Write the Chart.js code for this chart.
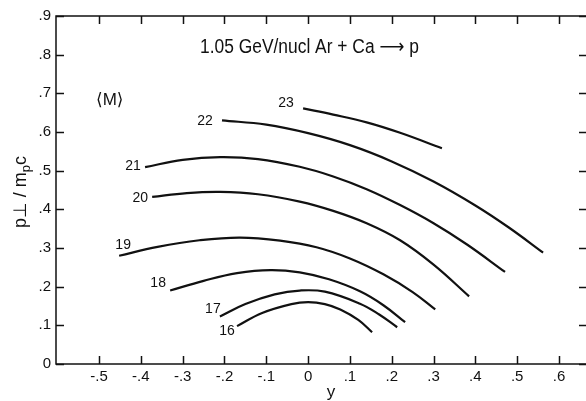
<!DOCTYPE html>
<html>
<head>
<meta charset="utf-8">
<script src="https://cdn.jsdelivr.net/npm/chart.js@4/dist/chart.umd.min.js"></script>
<style>
  html, body { margin: 0; padding: 0; background: #fff; overflow: hidden; }
</style>
</head>
<body>
<canvas id="chart" width="590" height="401"></canvas>
<script>
// <M> curves: rapidity y and p_perp / m_p c
const curveNames = ['16', '17', '18', '19', '20', '21', '22', '23'];

const m16x = [-0.170, -0.11, -0.04, 0.0, 0.04, 0.077, 0.12, 0.153];
const m16y = [0.098, 0.132, 0.155, 0.160, 0.155, 0.141, 0.114, 0.082];

const m17x = [-0.211, -0.15, -0.08, -0.02, 0.04, 0.124, 0.17, 0.213];
const m17y = [0.123, 0.155, 0.180, 0.190, 0.187, 0.156, 0.128, 0.095];

const m18x = [-0.330, -0.25, -0.17, -0.09, -0.02, 0.05, 0.124, 0.18, 0.232];
const m18y = [0.190, 0.215, 0.235, 0.243, 0.237, 0.219, 0.188, 0.152, 0.108];

const m19x = [-0.452, -0.36, -0.26, -0.163, -0.067, 0.02, 0.10, 0.18, 0.25, 0.304];
const m19y = [0.280, 0.303, 0.320, 0.327, 0.319, 0.302, 0.273, 0.232, 0.186, 0.141];

const m20x = [-0.373, -0.29, -0.21, -0.12, -0.02, 0.06, 0.14, 0.22, 0.30, 0.385];
const m20y = [0.432, 0.442, 0.445, 0.439, 0.420, 0.396, 0.364, 0.320, 0.257, 0.175];

const m21x = [-0.39, -0.30, -0.21, -0.12, -0.02, 0.06, 0.14, 0.22, 0.30, 0.38, 0.471];
const m21y = [0.509, 0.528, 0.535, 0.530, 0.510, 0.485, 0.452, 0.411, 0.364, 0.309, 0.238];

const m22x = [-0.206, -0.10, 0.0, 0.10, 0.20, 0.30, 0.40, 0.48, 0.562];
const m22y = [0.630, 0.619, 0.597, 0.566, 0.524, 0.472, 0.410, 0.353, 0.288];

const m23x = [-0.012, 0.06, 0.14, 0.22, 0.32];
const m23y = [0.661, 0.645, 0.625, 0.598, 0.558];

const curveX = [m16x, m17x, m18x, m19x, m20x, m21x, m22x, m23x];
const curveY = [m16y, m17y, m18y, m19y, m20y, m21y, m22y, m23y];

const xTicks = [-0.5, -0.4, -0.3, -0.2, -0.1, 0, 0.1, 0.2, 0.3, 0.4, 0.5, 0.6];
const yTicks = [0, 0.1, 0.2, 0.3, 0.4, 0.5, 0.6, 0.7, 0.8, 0.9];

// pixel offsets of each curve's number from its first point
const labelOffsets = [[-10, 5], [-7, -7], [-12, -7], [4, -11], [-12, 1], [-12, -1], [-17, 1], [-17, -5]];

const FONT = "'Liberation Sans', 'DejaVu Sans', sans-serif";

function fmt(v) {
    if (Math.abs(v) < 1e-9) return '0';
    return v.toFixed(1).replace('0.', '.');
}

const decor = {
    id: 'decor',
    afterDraw(chart) {
        const ctx = chart.ctx;
        const a = chart.chartArea;
        const xs = chart.scales.x, ys = chart.scales.y;
        ctx.save();
        ctx.strokeStyle = '#111';
        ctx.lineWidth = 1.5;
        ctx.strokeRect(a.left, a.top, a.right - a.left, a.bottom - a.top);

        // inward ticks on all four sides
        ctx.beginPath();
        xTicks.forEach(v => {
            const px = Math.round(xs.getPixelForValue(v)) + 0.5;
            ctx.moveTo(px, a.bottom); ctx.lineTo(px, a.bottom - 8);
            ctx.moveTo(px, a.top); ctx.lineTo(px, a.top + 8);
        });
        yTicks.forEach(v => {
            const py = Math.round(ys.getPixelForValue(v)) + 0.5;
            ctx.moveTo(a.left, py); ctx.lineTo(a.left + 8, py);
            ctx.moveTo(a.right, py); ctx.lineTo(a.right - 8, py);
        });
        ctx.stroke();

        // curve numbers
        ctx.fillStyle = '#111';
        ctx.font = '14px ' + FONT;
        ctx.textAlign = 'center';
        ctx.textBaseline = 'middle';
        curveNames.forEach((name, i) => {
            const px = xs.getPixelForValue(curveX[i][0]);
            const py = ys.getPixelForValue(curveY[i][0]);
            ctx.fillText(name, px + labelOffsets[i][0], py + labelOffsets[i][1]);
        });

        // x axis title
        ctx.font = '17px ' + FONT;
        ctx.fillText('y', 331, 392);

        // <M>
        ctx.font = '17px ' + FONT;
        ctx.textAlign = 'left';
        ctx.fillText('\u27E8M\u27E9', a.left + 40, a.top + 84);

        // reaction title, slightly condensed
        ctx.save();
        ctx.translate(a.left + 144, a.top + 31);
        ctx.scale(0.87, 1);
        ctx.font = '20px ' + FONT;
        ctx.fillText('1.05 GeV/nucl Ar + Ca \u27F6 p', 0, 0);
        ctx.restore();

        // y axis title: p⊥ / m_p c
        ctx.translate(20, 192);
        ctx.rotate(-Math.PI / 2);
        ctx.textAlign = 'left';
        ctx.textBaseline = 'alphabetic';
        const parts = [['p\u22A5 / m', 0, 18], ['p', 4, 13], ['c', 0, 18]];
        let w = 0;
        parts.forEach(p => { ctx.font = p[2] + 'px ' + FONT; w += ctx.measureText(p[0]).width; });
        let x0 = -w / 2;
        parts.forEach(p => {
            ctx.font = p[2] + 'px ' + FONT;
            ctx.fillText(p[0], x0, 6 + p[1]);
            x0 += ctx.measureText(p[0]).width;
        });
        ctx.restore();
    }
};

const ctx1 = document.getElementById('chart').getContext('2d');
new Chart(ctx1, {
    type: 'scatter',
    data: {
        datasets: curveNames.map((name, i) => ({
            label: name,
            data: curveX[i].map((x, j) => ({ x: x, y: curveY[i][j] })),
            showLine: true,
            borderColor: '#111',
            borderWidth: 2.2,
            pointRadius: 0,
            tension: 0.4
        }))
    },
    options: {
        responsive: false,
        animation: false,
        layout: { padding: { top: 16, right: 3, left: 0, bottom: 0 } },
        plugins: { legend: { display: false }, tooltip: { enabled: false } },
        scales: {
            x: {
                type: 'linear',
                min: -0.603,
                max: 0.667,
                grid: { display: false, drawTicks: false },
                border: { display: false },
                afterBuildTicks: s => { s.ticks = xTicks.map(v => ({ value: v })); },
                afterFit: s => { s.height = 37; },
                ticks: {
                    callback: v => fmt(v),
                    color: '#111',
                    font: { size: 15, family: FONT },
                    padding: 4,
                    maxRotation: 0,
                    autoSkip: false
                }
            },
            y: {
                min: 0,
                max: 0.9,
                grid: { display: false, drawTicks: false },
                border: { display: false },
                afterBuildTicks: s => { s.ticks = yTicks.map(v => ({ value: v })); },
                afterFit: s => { s.width = 56; },
                ticks: {
                    callback: v => fmt(v),
                    color: '#111',
                    font: { size: 15, family: FONT },
                    padding: 5,
                    autoSkip: false
                }
            }
        }
    },
    plugins: [decor]
});
</script>
</body>
</html>
